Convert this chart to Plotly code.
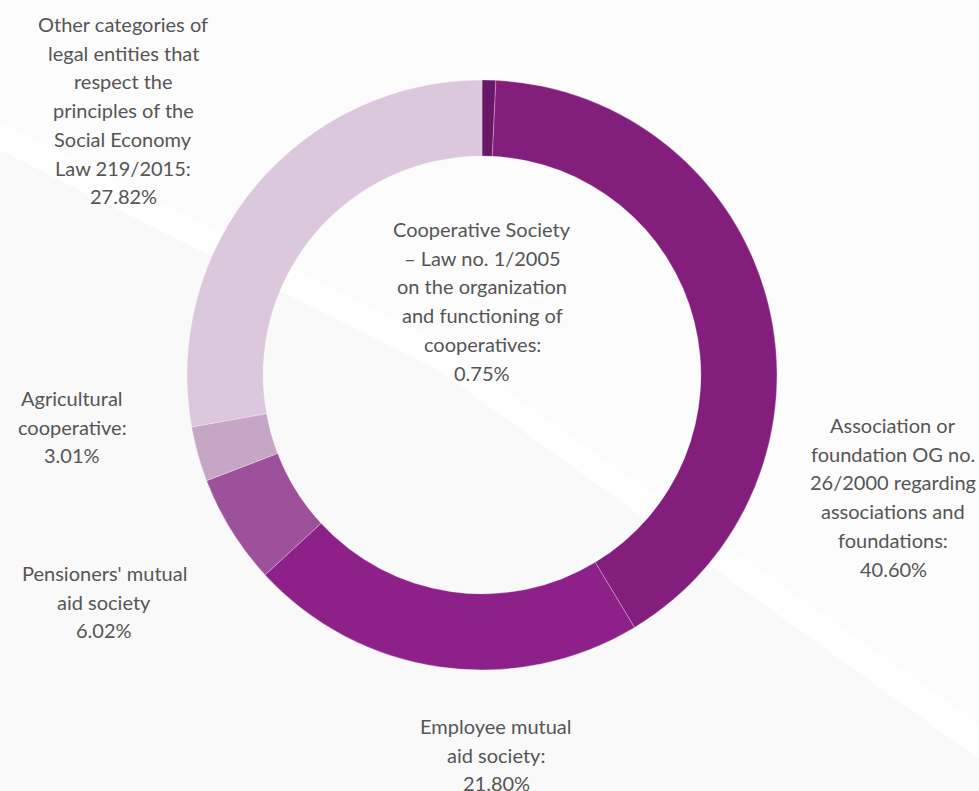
import plotly.graph_objects as go

# Legal forms of social economy entities and their shares (%)
labels = [
    "Cooperative Society\n– Law no. 1/2005\non the organization\nand functioning of\ncooperatives:",
    "Association or\nfoundation OG no.\n26/2000 regarding\nassociations and\nfoundations:",
    "Employee mutual\naid society:",
    "Pensioners' mutual\naid society",
    "Agricultural\ncooperative:",
    "Other categories of\nlegal entities that\nrespect the\nprinciples of the\nSocial Economy\nLaw 219/2015:",
]
shares = [0.75, 40.60, 21.80, 6.02, 3.01, 27.82]
colors = ["#6A1767", "#841E7D", "#8E2189", "#9E519B", "#C6A6C5", "#DCC8DC"]

W, H = 979, 791
cx, cy, r = 482, 375, 295

# label anchor (centre x, first-line y) in pixels, per slice
label_pos = [(482, 229), (893, 425), (496, 726), (104, 573), (72, 398), (123, 24)]
line_gap = 28.7

fig = go.Figure(go.Pie(
    values=shares,
    labels=[l.replace("\n", " ") for l in labels],
    sort=False,
    direction="clockwise",
    rotation=0,
    hole=0.742,
    marker=dict(colors=colors, line=dict(color="rgba(255,255,255,0.35)", width=0.8)),
    textinfo="none",
    hoverinfo="label+percent",
    showlegend=False,
    domain=dict(x=[(cx - r) / W, (cx + r) / W], y=[(H - cy - r) / H, (H - cy + r) / H]),
))

annotations = []
for text, val, (x, y0) in zip(labels, shares, label_pos):
    lines = text.split("\n") + [f"{val:.2f}%"]
    for i, line in enumerate(lines):
        y = y0 + i * line_gap
        annotations.append(dict(
            x=x / W, y=1 - y / H, xref="paper", yref="paper",
            text=line, showarrow=False, xanchor="center", yanchor="middle",
            font=dict(family="Lato, Carlito, sans-serif", size=20, color="#555555"),
        ))

# soft diagonal light bands across the background
shapes = [
    dict(type="path", xref="paper", yref="paper", layer="below",
         path="M 0 1 L 0 0.84 L 0.45 0.56 L 1 0.08 L 1 1 Z",
         fillcolor="#FCFCFC", line=dict(width=0)),
    dict(type="path", xref="paper", yref="paper", layer="below",
         path="M 0 0.845 L 0.45 0.565 L 1 0.085 L 1 0.04 L 0.45 0.53 L 0 0.81 Z",
         fillcolor="#FEFEFE", line=dict(width=0)),
]

fig.update_layout(
    width=W, height=H,
    margin=dict(l=0, r=0, t=0, b=0),
    paper_bgcolor="#F9F9F9",
    plot_bgcolor="#F9F9F9",
    annotations=annotations,
    shapes=shapes,
)

fig.write_html("out.html")
